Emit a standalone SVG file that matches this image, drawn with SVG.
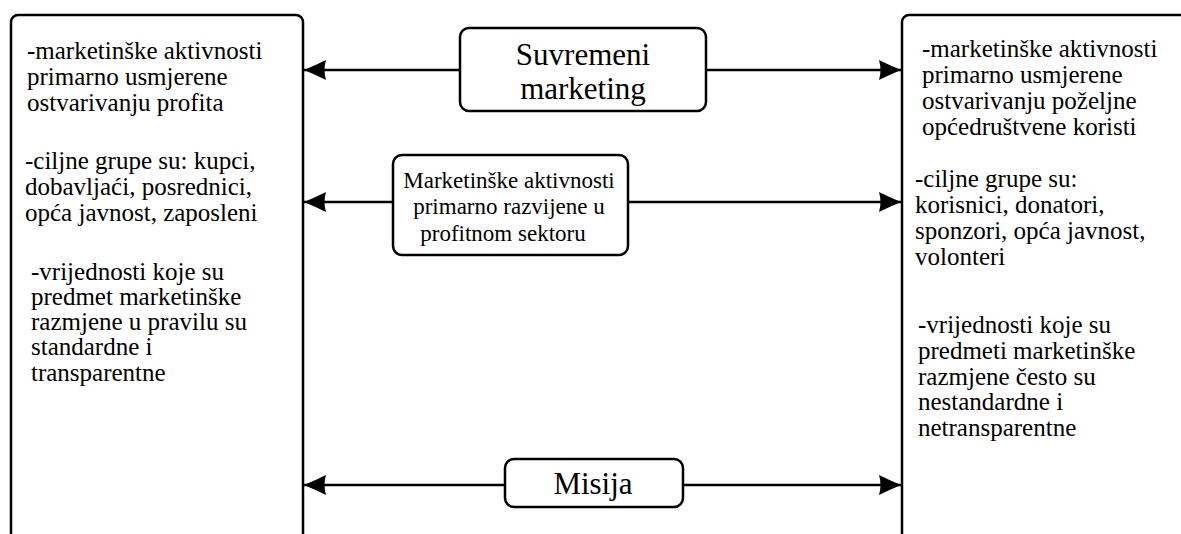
<svg xmlns="http://www.w3.org/2000/svg" width="1181" height="534" viewBox="0 0 1181 534">
<style>
.box{fill:#fff;stroke:#000;stroke-width:2.5}
.side{font-size:25px;fill:#000}
.lbl{fill:#000;text-anchor:middle}
.conn{stroke:#000;stroke-width:2.5;fill:none;marker-end:url(#ah)}
</style>
<defs>
<marker id="ah" markerUnits="userSpaceOnUse" viewBox="0 -12 26 24" refX="24" refY="0" markerWidth="26" markerHeight="24" orient="auto">
<path d="M2,-10 Q12,-5 24,0 Q12,5 2,10 Q5,0 2,-10 Z" fill="#000"/>
</marker>
</defs>
<rect width="1181" height="534" fill="#fff"/>
<g id="connectors">
<line class="conn" x1="460" y1="70" x2="304" y2="70"/>
<line class="conn" x1="706" y1="70" x2="901" y2="70"/>
<line class="conn" x1="393" y1="202" x2="304" y2="202"/>
<line class="conn" x1="628" y1="202" x2="901" y2="202"/>
<line class="conn" x1="505" y1="485" x2="304" y2="485"/>
<line class="conn" x1="683" y1="485" x2="901" y2="485"/>
</g>
<g id="left-box">
<rect class="box" x="11" y="15" width="292" height="530" rx="7"/>
<text class="side" font-family="'Liberation Serif', 'Times New Roman', Times, 'DejaVu Serif', serif">
<tspan x="27" y="59">-marketinške aktivnosti</tspan>
<tspan x="27" y="85">primarno usmjerene</tspan>
<tspan x="27" y="111">ostvarivanju profita</tspan>
<tspan x="25" y="169">-ciljne grupe su: kupci,</tspan>
<tspan x="25" y="195">dobavljaći, posrednici,</tspan>
<tspan x="25" y="221">opća javnost, zaposleni</tspan>
<tspan x="31" y="280">-vrijednosti koje su</tspan>
<tspan x="31" y="305">predmet marketinške</tspan>
<tspan x="31" y="330">razmjene u pravilu su</tspan>
<tspan x="31" y="355">standardne i</tspan>
<tspan x="31" y="381">transparentne</tspan>
</text>
</g>
<g id="right-box">
<rect class="box" x="902" y="15" width="300" height="530" rx="7"/>
<text class="side" font-family="'Liberation Serif', 'Times New Roman', Times, 'DejaVu Serif', serif">
<tspan x="922" y="57">-marketinške aktivnosti</tspan>
<tspan x="922" y="83">primarno usmjerene</tspan>
<tspan x="922" y="109">ostvarivanju poželjne</tspan>
<tspan x="922" y="135">općedruštvene koristi</tspan>
<tspan x="915" y="187">-ciljne grupe su:</tspan>
<tspan x="915" y="213">korisnici, donatori,</tspan>
<tspan x="915" y="239">sponzori, opća javnost,</tspan>
<tspan x="915" y="265">volonteri</tspan>
<tspan x="918" y="333">-vrijednosti koje su</tspan>
<tspan x="918" y="359">predmeti marketinške</tspan>
<tspan x="918" y="385">razmjene često su</tspan>
<tspan x="918" y="410">nestandardne i</tspan>
<tspan x="918" y="436">netransparentne</tspan>
</text>
</g>
<g id="node-suvremeni">
<rect class="box" x="460" y="28" width="246" height="83" rx="9"/>
<text class="lbl" font-size="31" font-family="'Liberation Serif', 'Times New Roman', Times, 'DejaVu Serif', serif"><tspan x="583" y="65">Suvremeni</tspan><tspan x="583" y="99">marketing</tspan></text>
</g>
<g id="node-profitni">
<rect class="box" x="393" y="155" width="235" height="100" rx="9"/>
<text class="lbl" font-size="23" font-family="'Liberation Serif', 'Times New Roman', Times, 'DejaVu Serif', serif"><tspan x="509" y="188">Marketinške aktivnosti</tspan><tspan x="509" y="214">primarno razvijene u</tspan><tspan x="503" y="241">profitnom sektoru</tspan></text>
</g>
<g id="node-misija">
<rect class="box" x="505" y="459" width="178" height="48" rx="9"/>
<text class="lbl" font-size="31" font-family="'Liberation Serif', 'Times New Roman', Times, 'DejaVu Serif', serif" x="593" y="494">Misija</text>
</g>
</svg>
